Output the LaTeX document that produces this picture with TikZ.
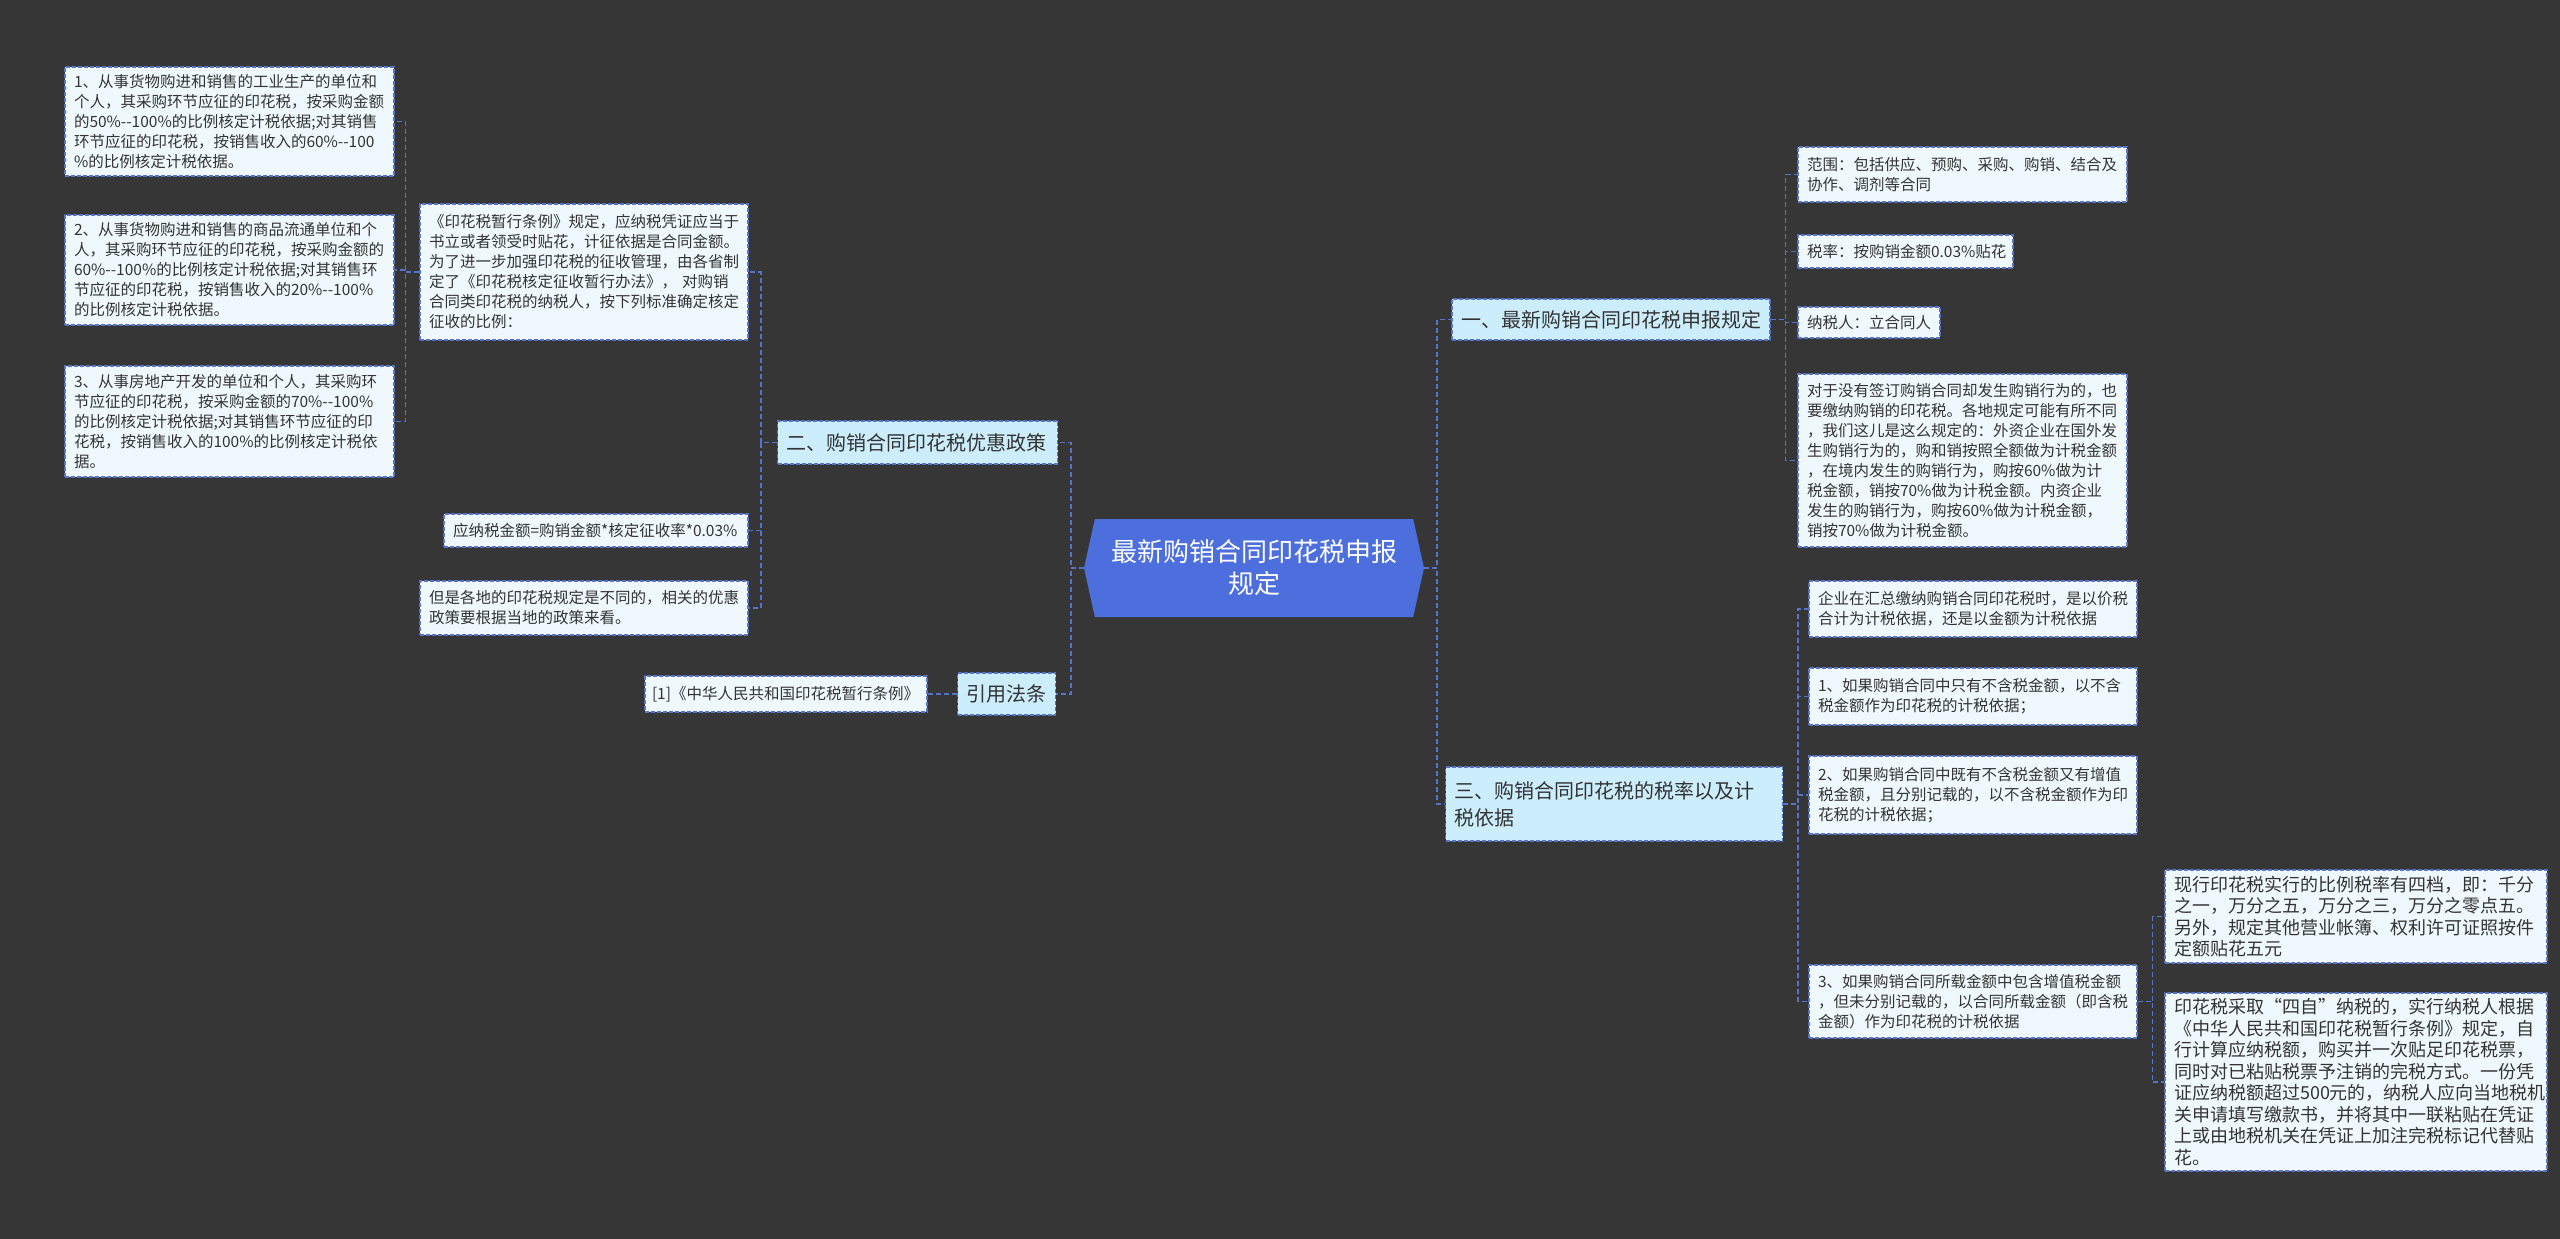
\documentclass[tikz,border=0pt]{standalone}
\usepackage{fontspec}
\setmainfont{Noto Sans CJK SC}
\usetikzlibrary{shapes.symbols}
\definecolor{bgdark}{HTML}{363637}
\definecolor{rootblue}{HTML}{4C6FDD}
\definecolor{branchfill}{HTML}{CCEEFC}
\definecolor{leaffill}{HTML}{EFF9FD}
\definecolor{linkblue}{HTML}{5674CC}
\definecolor{textdark}{HTML}{333333}
\begin{document}
\begin{tikzpicture}[x=1pt, y=-1pt,
  root/.style={shape=signal, signal to=west and east, signal pointer angle=155,
               fill=rootblue, text=white, inner sep=0pt, minimum width=340pt,
               minimum height=98pt, align=center, font=\fontsize{26}{32}\selectfont},
  branch/.style={draw=linkblue, line width=1.2pt, dash pattern=on 4pt off 2pt,
                 fill=branchfill, text=textdark, align=left, inner xsep=9pt,
                 inner ysep=0pt, font=\fontsize{20}{27}\selectfont},
  leaf/.style={draw=linkblue, line width=1.2pt, dash pattern=on 4pt off 2pt,
               fill=leaffill, text=textdark, align=left, inner xsep=9pt,
               inner ysep=0pt, text width=311pt, font=\fontsize{15.5}{20}\selectfont},
  wideleaf/.style={leaf, text width=364pt, font=\fontsize{18}{21.5}\selectfont},
  link/.style={draw=linkblue, line width=1.6pt, dash pattern=on 5pt off 3pt}
]
  \fill[bgdark] (0,0) rectangle (2560,1239);
  \useasboundingbox (0,0) rectangle (2560,1239);
  % centre
  \node[root] (root) at (1254,568) {最新购销合同印花税申报\\规定};
  % branches
  \node[branch, text width=300pt, minimum height=41pt] (b1) at (1611,319.5) {一、最新购销合同印花税申报规定};
  \node[branch, text width=262pt, minimum height=43pt] (b2) at (917.5,442.5) {二、购销合同印花税优惠政策};
  \node[branch, text width=319pt, minimum height=74pt] (b3) at (1614,804) {三、购销合同印花税的税率以及计\\税依据};
  \node[branch, text width=80pt, minimum height=42pt] (b4) at (1006.5,694) {引用法条};
  % right, branch one
  \node[leaf, minimum height=55pt] (r1) at (1962.5,174.5) {范围：包括供应、预购、采购、购销、结合及\\协作、调剂等合同};
  \node[leaf, text width=197pt, minimum height=33pt] (r2) at (1905.5,251.5) {税率：按购销金额0.03\%贴花};
  \node[leaf, text width=124pt, minimum height=31pt] (r3) at (1869,322.5) {纳税人：立合同人};
  \node[leaf, minimum height=173pt] (r4) at (1962.5,460.5) {对于没有签订购销合同却发生购销行为的，也\\要缴纳购销的印花税。各地规定可能有所不同\\，我们这儿是这么规定的：外资企业在国外发\\生购销行为的，购和销按照全额做为计税金额\\，在境内发生的购销行为，购按60\%做为计\\税金额，销按70\%做为计税金额。内资企业\\发生的购销行为，购按60\%做为计税金额，\\销按70\%做为计税金额。};
  % right, branch three
  \node[leaf, text width=310pt, minimum height=56pt] (s1) at (1973,609) {企业在汇总缴纳购销合同印花税时，是以价税\\合计为计税依据，还是以金额为计税依据};
  \node[leaf, text width=310pt, minimum height=57pt] (s2) at (1973,696.5) {1、如果购销合同中只有不含税金额，以不含\\税金额作为印花税的计税依据；};
  \node[leaf, text width=310pt, minimum height=78pt] (s3) at (1973,795) {2、如果购销合同中既有不含税金额又有增值\\税金额，且分别记载的，以不含税金额作为印\\花税的计税依据；};
  \node[leaf, text width=310pt, minimum height=73pt] (s4) at (1973,1001.5) {3、如果购销合同所载金额中包含增值税金额\\，但未分别记载的，以合同所载金额（即含税\\金额）作为印花税的计税依据};
  \node[wideleaf, minimum height=93pt] (t1) at (2356,916.5) {现行印花税实行的比例税率有四档，即：千分\\之一，万分之五，万分之三，万分之零点五。\\另外，规定其他营业帐簿、权利许可证照按件\\定额贴花五元};
  \node[wideleaf, minimum height=178pt] (t2) at (2356,1082) {印花税采取“四自”纳税的，实行纳税人根据\\《中华人民共和国印花税暂行条例》规定，自\\行计算应纳税额，购买并一次贴足印花税票，\\同时对已粘贴税票予注销的完税方式。一份凭\\证应纳税额超过500元的，纳税人应向当地税机\\关申请填写缴款书，并将其中一联粘贴在凭证\\上或由地税机关在凭证上加注完税标记代替贴\\花。};
  % left, branch two
  \node[leaf, text width=310pt, minimum height=136pt] (m1) at (584,272) {《印花税暂行条例》规定，应纳税凭证应当于\\书立或者领受时贴花，计征依据是合同金额。\\为了进一步加强印花税的征收管理，由各省制\\定了《印花税核定征收暂行办法》， 对购销\\合同类印花税的纳税人，按下列标准确定核定\\征收的比例：};
  \node[leaf, text width=286pt, minimum height=33pt] (m2) at (596,530.5) {应纳税金额=购销金额*核定征收率*0.03\%};
  \node[leaf, text width=310pt, minimum height=54pt] (m3) at (584,608) {但是各地的印花税规定是不同的，相关的优惠\\政策要根据当地的政策来看。};
  \node[leaf, minimum height=109pt] (l1) at (229.5,121.5) {1、从事货物购进和销售的工业生产的单位和\\个人，其采购环节应征的印花税，按采购金额\\的50\%-{}-100\%的比例核定计税依据;对其销售\\环节应征的印花税，按销售收入的60\%-{}-100\\ \%的比例核定计税依据。};
  \node[leaf, minimum height=110pt] (l2) at (229.5,270) {2、从事货物购进和销售的商品流通单位和个\\人，其采购环节应征的印花税，按采购金额的\\60\%-{}-100\%的比例核定计税依据;对其销售环\\节应征的印花税，按销售收入的20\%-{}-100\%\\的比例核定计税依据。};
  \node[leaf, minimum height=111pt] (l3) at (229.5,421.5) {3、从事房地产开发的单位和个人，其采购环\\节应征的印花税，按采购金额的70\%-{}-100\%\\的比例核定计税依据;对其销售环节应征的印\\花税，按销售收入的100\%的比例核定计税依\\据。};
  % left, branch four
  \node[leaf, text width=268pt, inner xsep=7pt, minimum height=36pt] (c1) at (786,694) {[1]《中华人民共和国印花税暂行条例》};
  % links
  \draw[link] (root.east) -- ++(13,0) |- (b1.west);
  \draw[link] (root.east) -- ++(13,0) |- (b3.west);
  \draw[link] (root.west) -- ++(-13,0) |- (b2.east);
  \draw[link] (root.west) -- ++(-13,0) |- (b4.east);
  \draw[link] (b1.east) -- ++(15,0) |- (r1.west);
  \draw[link] (b1.east) -- ++(15,0) |- (r2.west);
  \draw[link] (b1.east) -- ++(15,0) |- (r3.west);
  \draw[link] (b1.east) -- ++(15,0) |- (r4.west);
  \draw[link] (b3.east) -- ++(15,0) |- (s1.west);
  \draw[link] (b3.east) -- ++(15,0) |- (s2.west);
  \draw[link] (b3.east) -- ++(15,0) |- (s3.west);
  \draw[link] (b3.east) -- ++(15,0) |- (s4.west);
  \draw[link] (s4.east) -- ++(15,0) |- (t1.west);
  \draw[link] (s4.east) -- ++(15,0) |- (t2.west);
  \draw[link] (b2.west) -- ++(-16,0) |- (m1.east);
  \draw[link] (b2.west) -- ++(-16,0) |- (m2.east);
  \draw[link] (b2.west) -- ++(-16,0) |- (m3.east);
  \draw[link] (m1.west) -- ++(-14,0) |- (l1.east);
  \draw[link] (m1.west) -- ++(-14,0) |- (l2.east);
  \draw[link] (m1.west) -- ++(-14,0) |- (l3.east);
  \draw[link] (b4) -- (c1);
\end{tikzpicture}
\end{document}
